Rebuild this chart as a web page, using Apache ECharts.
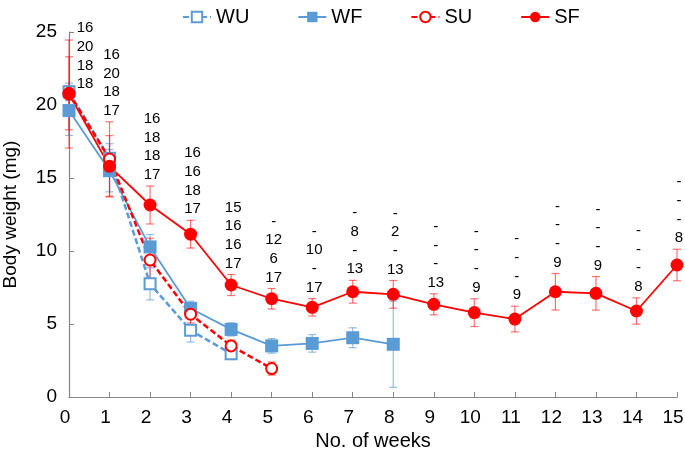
<!DOCTYPE html>
<html>
<head>
<meta charset="utf-8">
<script src="https://cdn.jsdelivr.net/npm/echarts@6/dist/echarts.min.js"></script>
<style>
html,body{margin:0;padding:0;background:#fff;}
#chart{width:685px;height:453px;}
</style>
</head>
<body>
<div id="chart"></div>
<script>
// ---- data ----
const weeks = [0,1,2,3,4,5,6,7,8,9,10,11,12,13,14,15];
const seriesNames = ['WU','WF','SU','SF'];

const wuMean = [20.9, 16.35, 7.75, 4.57, 2.97];
const wuSD   = [0.6, 1.0, 1.1, 0.8, 0.4];
const wfMean = [19.62, 15.5, 10.28, 6.06, 4.63, 3.5, 3.67, 4.06, 3.61];
const wfSD   = [1.7, 1.45, 0.85, 0.5, 0.45, 0.5, 0.6, 0.68, 2.95];
const suMean = [20.8, 16.3, 9.38, 5.67, 3.5, 1.95];
const suSD   = [2.5, 2.55, 1.5, 0.6, 0.4, 0.45];
const sfMean = [20.75, 15.8, 13.15, 11.15, 7.67, 6.73, 6.14, 7.21, 7.03, 6.35, 5.78, 5.34, 7.21, 7.1, 5.89, 9.04];
const sfSD   = [3.7, 2.1, 1.3, 0.95, 0.72, 0.7, 0.6, 0.78, 0.95, 0.72, 0.95, 0.88, 1.25, 1.15, 0.9, 1.08];

// sample sizes (null = '-')
const nWU = [16,16,16,16,15,null,null,null,null,null,null,null,null,null,null,null];
const nWF = [20,20,18,16,16,12,10,8,2,null,null,null,null,null,null,null];
const nSU = [18,18,18,18,16,6,null,null,null,null,null,null,null,null,null,null];
const nSF = [18,17,17,17,17,17,17,13,13,13,9,9,9,9,8,8];

const yTicks = [0,5,10,15,20,25];

// ---- styles ----
const BLUE = '#5B9BD5';
const RED = '#FF0000';
const BLUE_ERR = 'rgba(91,155,213,0.65)';
const RED_ERR = 'rgba(255,0,0,0.55)';
const FONT = 'Liberation Sans, Arial, sans-serif';

function pts(mean){ return mean.map((v,i)=>[weeks[i], v]); }
function errs(mean, sd){ return mean.map((v,i)=>[weeks[i], v - sd[i], v + sd[i]]); }

function errRender(color){
  return function(params, api){
    const x = api.value(0);
    const lo = api.coord([x, api.value(1)]);
    const hi = api.coord([x, api.value(2)]);
    const w = 4;
    const st = {stroke: color, lineWidth: 1.2};
    return {type:'group', children:[
      {type:'line', shape:{x1:lo[0],y1:lo[1],x2:hi[0],y2:hi[1]}, style:st},
      {type:'line', shape:{x1:lo[0]-w,y1:lo[1],x2:lo[0]+w,y2:lo[1]}, style:st},
      {type:'line', shape:{x1:hi[0]-w,y1:hi[1],x2:hi[0]+w,y2:hi[1]}, style:st}
    ]};
  };
}

// anchor of n-label block: highest error-bar top at each week
const allM = [wuMean, wfMean, suMean, sfMean];
const allS = [wuSD, wfSD, suSD, sfSD];
const labelData = weeks.map((w,i)=>{
  let top = -Infinity;
  allM.forEach((m,k)=>{ if (m[i] != null) top = Math.max(top, m[i] + allS[k][i]); });
  return [w, top, i];
});
const nRows = [nWU, nWF, nSU, nSF];

function labelRender(params, api){
  const i = api.value(2);
  const p = api.coord([api.value(0), api.value(1)]);
  const originX = api.coord([0,0])[0];
  const lh = 18.7;
  let bottom = p[1] - 11;
  let topRow = bottom - 3*lh;
  const minTop = 28;
  if (topRow < minTop) { bottom += (minTop - topRow); }
  const x = Math.max(p[0] + 2, originX + 16);
  const children = nRows.map((arr, r)=>({
    type:'text',
    x: x,
    y: bottom - (3 - r)*lh,
    style:{
      text: arr[i] == null ? '-' : String(arr[i]),
      fill:'#000',
      font: '15px ' + FONT,
      align:'center',
      verticalAlign:'middle'
    }
  }));
  return {type:'group', children};
}

const chart = echarts.init(document.getElementById('chart'), null, {renderer:'canvas'});

const lineBase = (name, mean, color, dashed, symbol, size) => ({
  name, type:'line', data: pts(mean), z: 5,
  symbol, symbolSize: size,
  showAllSymbol: true,
  connectNulls: false,
  lineStyle: {color, width: dashed ? 2.5 : 1.8, type: dashed ? [6,3] : 'solid'},
  itemStyle: {color: color, borderColor: color, borderWidth: symbol.startsWith('empty') ? 1.5 : 0},
  emphasis: {disabled: true}
});

const option = {
  animation: false,
  textStyle: {fontFamily: FONT},
  legend: {
    data: seriesNames,
    top: 2, left: 177,
    itemWidth: 28, itemHeight: 13, itemGap: 48,
    textStyle: {fontSize: 20, color:'#000', fontFamily: FONT}
  },
  grid: {left: 69, right: 8, top: 32, bottom: 56, containLabel: false, outerBoundsMode: 'none'},
  xAxis: {
    type:'value', min:0, max:15, interval:1,
    name:'No. of weeks', nameLocation:'middle', nameGap: 31,
    nameTextStyle:{fontSize:20, color:'#000', fontFamily: FONT},
    axisLine:{lineStyle:{color:'#868686', width:1.2}},
    axisTick:{inside:true, length:5, lineStyle:{color:'#868686'}},
    axisLabel:{fontSize:19, color:'#000', margin:11, padding:[0,8,0,0], fontFamily: FONT},
    splitLine:{show:false}
  },
  yAxis: {
    type:'value', min: yTicks[0], max: yTicks[yTicks.length-1], interval: yTicks[1]-yTicks[0],
    name:'Body weight (mg)', nameLocation:'middle', nameGap: 49, nameRotate: 90,
    nameTextStyle:{fontSize:19, color:'#000', fontFamily: FONT},
    axisLine:{show:true, lineStyle:{color:'#868686', width:1.2}},
    axisTick:{show:true, inside:true, length:5, lineStyle:{color:'#868686'}},
    axisLabel:{fontSize:19, color:'#000', margin:12, fontFamily: FONT},
    splitLine:{show:false}
  },
  series: [
    {type:'custom', name:'errWU', data: errs(wuMean, wuSD), renderItem: errRender(BLUE_ERR), z:2, encode:{x:0,y:[1,2]}, silent:true},
    {type:'custom', name:'errWF', data: errs(wfMean, wfSD), renderItem: errRender(BLUE_ERR), z:2, encode:{x:0,y:[1,2]}, silent:true},
    {type:'custom', name:'errSU', data: errs(suMean, suSD), renderItem: errRender(RED_ERR), z:2, encode:{x:0,y:[1,2]}, silent:true},
    {type:'custom', name:'errSF', data: errs(sfMean, sfSD), renderItem: errRender(RED_ERR), z:2, encode:{x:0,y:[1,2]}, silent:true},
    lineBase('WU', wuMean, BLUE, true, 'emptyRect', 11),
    lineBase('WF', wfMean, BLUE, false, 'rect', 13),
    lineBase('SU', suMean, RED, true, 'emptyCircle', 11),
    lineBase('SF', sfMean, RED, false, 'circle', 13),
    {type:'custom', name:'nLabels', data: labelData, renderItem: labelRender, z:10, encode:{x:0,y:1}, silent:true, clip:false}
  ]
};
chart.setOption(option);
</script>
</body>
</html>
